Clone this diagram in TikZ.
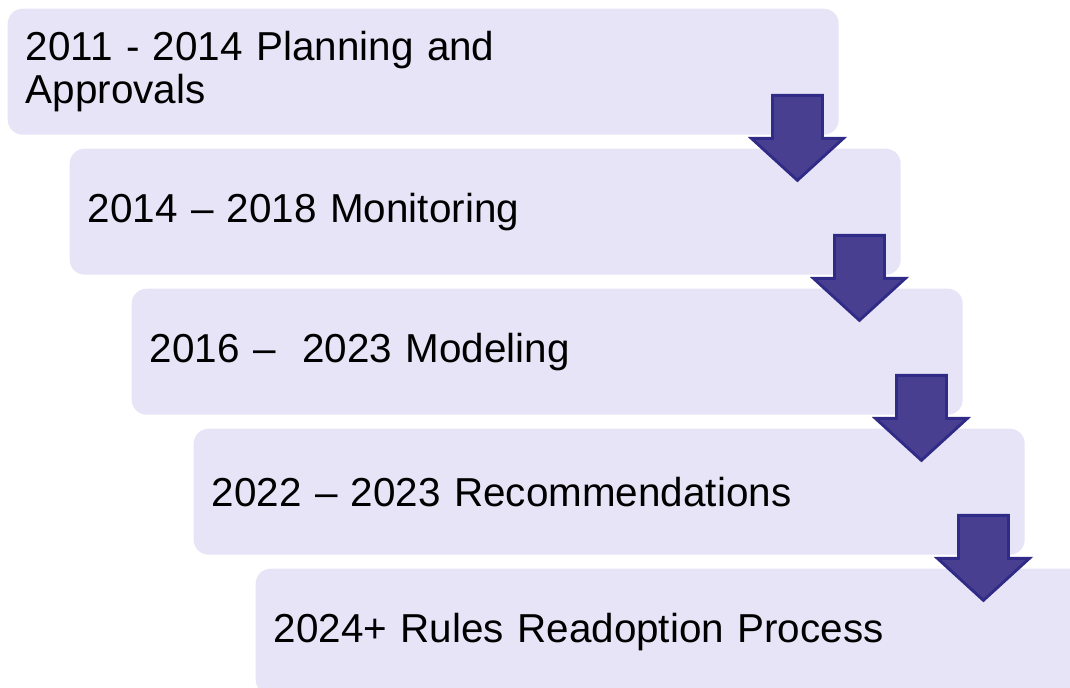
\documentclass[tikz,border=0pt]{standalone}
\usepackage{fontspec}
\setmainfont{Liberation Sans}
\usetikzlibrary{positioning,calc}

\definecolor{stagefill}{HTML}{E6E4F6}
\definecolor{arrowfill}{HTML}{483F91}
\definecolor{arrowline}{HTML}{302B86}

\tikzset{
  stagebox/.style={fill=stagefill, rounded corners=0.15cm, anchor=north west,
    minimum width=8.31cm, minimum height=1.26cm, inner xsep=0.18cm,
    text width=7.95cm, align=left, font=\fontsize{11.5}{12.4}\selectfont},
  downarrow/.pic={
    \filldraw[fill=arrowfill, draw=arrowline, line width=0.8pt, line join=miter]
      (-0.25,0) -- (0.25,0) -- (0.25,-0.43) -- (0.46,-0.43) -- (0,-0.85)
      -- (-0.46,-0.43) -- (-0.25,-0.43) -- cycle;
  }
}

\begin{document}
\begin{tikzpicture}

\useasboundingbox (0,0) rectangle (10.70,-6.88);

% Stages
\node[stagebox] (s1) at (0.07,-0.08) {2011 - 2014 Planning and\\Approvals};
\node[stagebox] (s2) at ($(s1.north west)+(0.62,-1.40)$) {2014 -- 2018 Monitoring};
\node[stagebox] (s3) at ($(s2.north west)+(0.62,-1.40)$) {2016 --\ \ 2023 Modeling};
\node[stagebox] (s4) at ($(s3.north west)+(0.62,-1.40)$) {2022 -- 2023 Recommendations};
\node[stagebox] (s5) at ($(s4.north west)+(0.62,-1.40)$) {2024+ Rules Readoption Process};

% Block arrows between stages
\pic at ($(s1.south east)+(-0.42,0.40)$) {downarrow};
\pic at ($(s2.south east)+(-0.42,0.40)$) {downarrow};
\pic at ($(s3.south east)+(-0.42,0.40)$) {downarrow};
\pic at ($(s4.south east)+(-0.42,0.40)$) {downarrow};

\end{tikzpicture}
\end{document}
